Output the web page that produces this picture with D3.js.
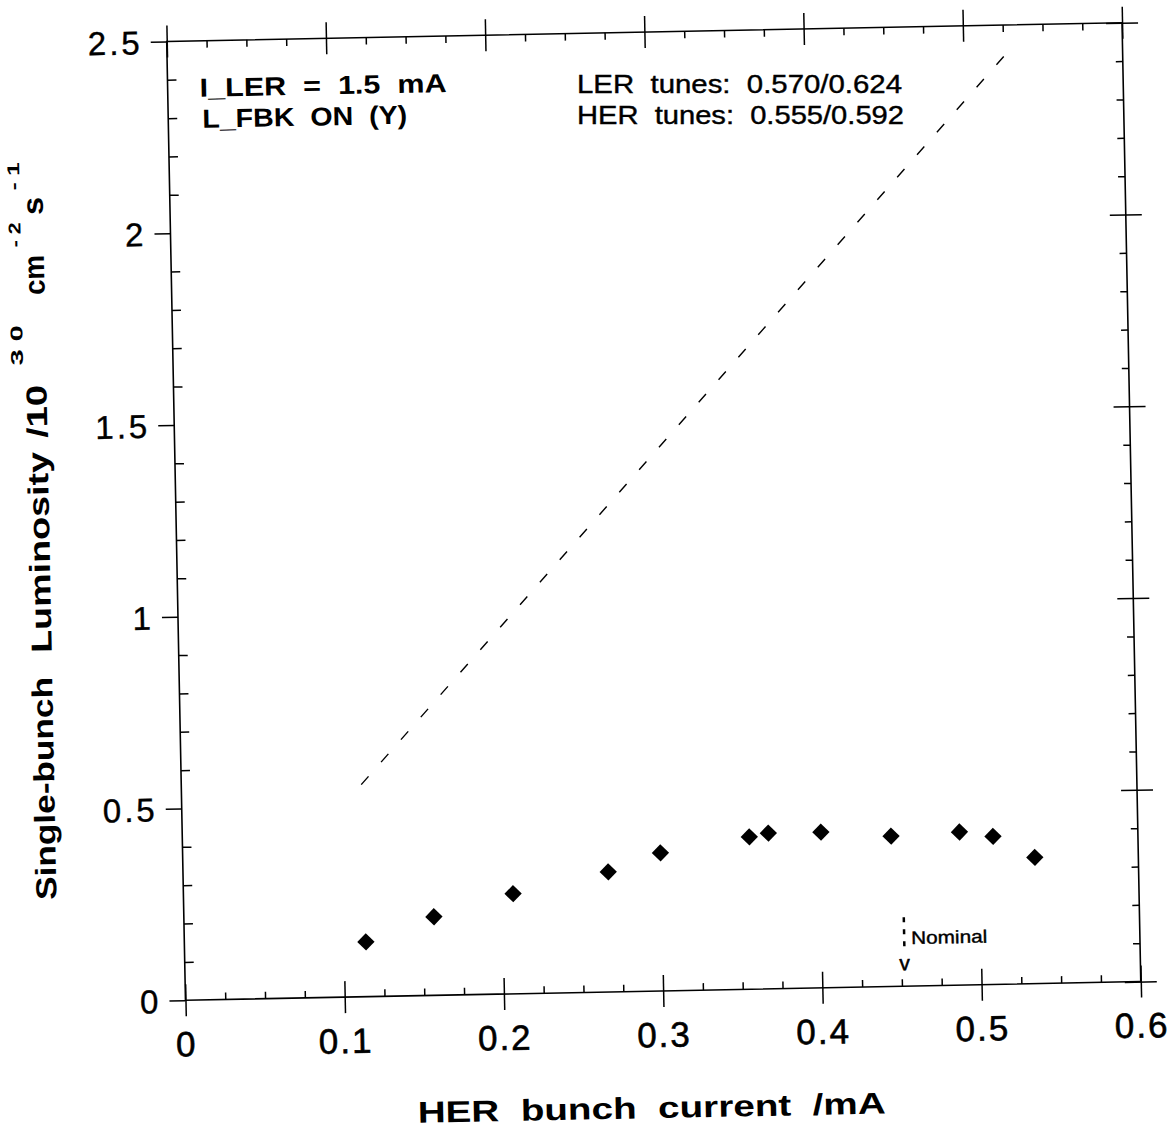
<!DOCTYPE html>
<html>
<head>
<meta charset="utf-8">
<script src="https://cdn.jsdelivr.net/npm/d3@7"></script>
<style>
  html, body { margin: 0; padding: 0; background: #fff; }
  svg { display: block; }
  text { font-family: "Liberation Sans", Arial, Helvetica, sans-serif; fill: #000; }
</style>
</head>
<body>
<script>
"use strict";

// --- values ---

const herCurrent = [0.114, 0.157, 0.207, 0.267, 0.300, 0.356, 0.368, 0.401, 0.445, 0.488, 0.509, 0.535]
const luminosity = [0.143, 0.205, 0.261, 0.313, 0.360, 0.397, 0.406, 0.406, 0.392, 0.399, 0.386, 0.329]

// dashed "expected" line, end points only
const expectedCurrent = [0.113, 0.526]
const expectedLumi = [0.553, 2.421]

const nominalCurrent = 0.452

const xTicks = [0, 0.1, 0.2, 0.3, 0.4, 0.5, 0.6]
const xTickLabels = ["0", "0.1", "0.2", "0.3", "0.4", "0.5", "0.6"]
const yTicks = [0, 0.5, 1, 1.5, 2, 2.5]
const yTickLabels = ["0", "0.5", "1", "1.5", "2", "2.5"]

const leftNotes = ["I_LER  =  1.5  mA", "L_FBK  ON  (Y)"]
const rightNotes = ["LER  tunes:  0.570/0.624", "HER  tunes:  0.555/0.592"]
const xTitle = "HER  bunch  current  /mA"

// ---------------------------------------------

const W = 1175, H = 1132
const tilt = -1.12 // the scan is slightly rotated

const x = d3.scaleLinear().domain([0, 0.6]).range([176, 1131.5])
const y = d3.scaleLinear().domain([0, 2.5]).range([991, 32])

const svg = d3.select("body").append("svg")
    .attr("width", W)
    .attr("height", H)
    .style("background", "#fff")

const plot = svg.append("g")
    .attr("transform", `rotate(${tilt}, 653.5, 511.5)`)

const xMinor = d3.range(25).map(i => i * 0.025).filter((d, i) => i % 4 !== 0)
const yMinor = d3.range(26).map(i => i * 0.1).filter((d, i) => i % 5 !== 0)

function addAxis (axis, transform) {
    const g = plot.append("g")
        .attr("transform", transform)
        .call(axis)
    g.select(".domain").remove()
    g.selectAll(".tick line")
        .attr("stroke", "#000")
        .attr("stroke-width", 1.5)
    return g
}

// --- bottom ---
const bottomAxis = addAxis(d3.axisBottom(x).tickValues(xTicks).tickSize(16)
    .tickFormat((d, i) => xTickLabels[i]), `translate(0,${y(0)})`)
bottomAxis.selectAll(".tick line").attr("y1", -16)
bottomAxis.selectAll(".tick text")
    .attr("y", 56)
    .attr("dy", 0)
    .style("font-size", "35px")
    .style("letter-spacing", "2px")
    .style("stroke", "#000")
    .style("stroke-width", 0.6)
addAxis(d3.axisBottom(x).tickValues(xMinor).tickSize(-7).tickFormat(""), `translate(0,${y(0)})`)

// --- top ---
const topAxis = addAxis(d3.axisTop(x).tickValues(xTicks).tickSize(16).tickFormat(""), `translate(0,${y(2.5)})`)
topAxis.selectAll(".tick line").attr("y1", 16)
addAxis(d3.axisTop(x).tickValues(xMinor).tickSize(-7).tickFormat(""), `translate(0,${y(2.5)})`)

// --- left ---
const leftAxis = addAxis(d3.axisLeft(y).tickValues(yTicks).tickSize(16)
    .tickFormat((d, i) => yTickLabels[i]), `translate(${x(0)},0)`)
leftAxis.selectAll(".tick text")
    .attr("x", -24)
    .attr("dy", "0.36em")
    .style("font-size", "33px")
    .style("letter-spacing", "3px")
    .style("stroke", "#000")
    .style("stroke-width", 0.4)
addAxis(d3.axisLeft(y).tickValues(yMinor).tickSize(-9).tickFormat(""), `translate(${x(0)},0)`)

// --- right ---
const rightAxis = addAxis(d3.axisRight(y).tickValues(yTicks).tickSize(16).tickFormat(""), `translate(${x(0.6)},0)`)
rightAxis.selectAll(".tick line").attr("x1", -16)
addAxis(d3.axisRight(y).tickValues(yMinor).tickSize(-7).tickFormat(""), `translate(${x(0.6)},0)`)

// frame
plot.append("rect")
    .attr("x", x(0))
    .attr("y", y(2.5))
    .attr("width", x(0.6) - x(0))
    .attr("height", y(0) - y(2.5))
    .attr("fill", "none")
    .attr("stroke", "#000")
    .attr("stroke-width", 1.6)

// dashed expectation
plot.append("path")
    .datum(d3.zip(expectedCurrent, expectedLumi))
    .attr("d", d3.line().x(d => x(d[0])).y(d => y(d[1])))
    .attr("fill", "none")
    .attr("stroke", "#000")
    .attr("stroke-width", 1.4)
    .attr("stroke-dasharray", "11,19")

// measured points
plot.append("g")
    .selectAll("path")
    .data(d3.zip(herCurrent, luminosity))
    .enter().append("path")
    .attr("d", d3.symbol().type(d3.symbolSquare).size(150))
    .attr("transform", d => `translate(${x(d[0])},${y(d[1])}) rotate(45)`)
    .attr("fill", "#000")

// nominal marker
const nx = x(nominalCurrent)
plot.append("line")
    .attr("x1", nx).attr("x2", nx)
    .attr("y1", 922).attr("y2", 957)
    .attr("stroke", "#000")
    .attr("stroke-width", 2.5)
    .attr("stroke-dasharray", "5,7")
plot.append("text")
    .attr("x", nx)
    .attr("y", 975)
    .attr("text-anchor", "middle")
    .style("font-size", "21px")
    .style("stroke", "#000")
    .style("stroke-width", 0.5)
    .text("v")
plot.append("text")
    .attr("x", nx + 7)
    .attr("y", 949)
    .attr("textLength", 76)
    .attr("lengthAdjust", "spacingAndGlyphs")
    .style("font-size", "18px")
    .style("stroke", "#000")
    .style("stroke-width", 0.4)
    .text("Nominal")

// notes
plot.append("g").selectAll("text")
    .data(leftNotes)
    .enter().append("text")
    .attr("x", (d, i) => 208 + i * 2)
    .attr("y", (d, i) => 88 + i * 31)
    .attr("textLength", (d, i) => [247, 205][i])
    .attr("lengthAdjust", "spacingAndGlyphs")
    .style("white-space", "pre")
    .style("font-size", "26px")
    .style("font-weight", "bold")
    .text(d => d)

// tune notes kept level (page coordinates) so the two lines stay apart
svg.append("g").selectAll("text")
    .data(rightNotes)
    .enter().append("text")
    .attr("x", 577)
    .attr("y", (d, i) => 93 + i * 31)
    .attr("textLength", (d, i) => [325, 327][i])
    .attr("lengthAdjust", "spacingAndGlyphs")
    .style("white-space", "pre")
    .style("font-size", "25px")
    .style("stroke", "#000")
    .style("stroke-width", 0.4)
    .text(d => d)

// x title
plot.append("text")
    .attr("x", 640)
    .attr("y", 1118)
    .attr("text-anchor", "middle")
    .attr("textLength", 468)
    .attr("lengthAdjust", "spacingAndGlyphs")
    .style("white-space", "pre")
    .style("font-size", "30px")
    .style("font-weight", "bold")
    .text(xTitle)

// y title, laid out piece by piece (offsets along the rotated baseline)
const yTitlePieces = [
    {t: "Single-bunch", at: 0, len: 223},
    {t: "Luminosity", at: 247, len: 201},
    {t: "/10", at: 462, len: 53},
    {t: "3 0", at: 535, len: 40, sup: true},
    {t: "cm", at: 605, len: 40},
    {t: "- 2", at: 653, len: 25, sup: true},
    {t: "s", at: 685, len: 18},
    {t: "- 1", at: 710, len: 28, sup: true}
]
const yTitle = plot.append("g")
    .attr("transform", "translate(49,888) rotate(-90)")
yTitle.selectAll("text")
    .data(yTitlePieces)
    .enter().append("text")
    .attr("x", d => d.at)
    .attr("y", d => d.sup ? -23 : 0)
    .attr("textLength", d => d.len)
    .attr("lengthAdjust", "spacingAndGlyphs")
    .style("white-space", "pre")
    .style("font-size", d => d.sup ? "17px" : "29px")
    .style("font-weight", "bold")
    .text(d => d.t)
</script>
</body>
</html>
